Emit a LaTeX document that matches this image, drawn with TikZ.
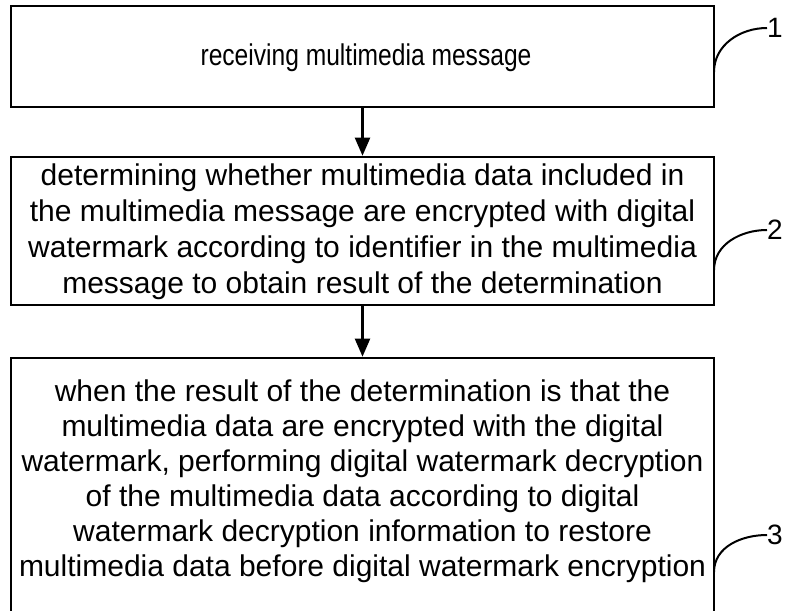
\documentclass[tikz,border=0pt]{standalone}
\usepackage{fontspec}
\usepackage{graphicx}
\setmainfont{Liberation Sans}
\usetikzlibrary{arrows.meta}
\begin{document}
\begin{tikzpicture}[x=1pt,y=1pt,
  stepbox/.style={draw=black,line width=2.6pt,minimum width=703pt,inner sep=0pt},
  boxtext/.style={inner sep=0pt,align=center},
  flow/.style={line width=2.2pt,-{Triangle[length=18pt,width=15pt]}},
  leader/.style={line width=2pt},
  numlabel/.style={font=\fontsize{28}{32}\selectfont,inner sep=0pt,anchor=west}]
\useasboundingbox (0,0) rectangle (791,610);
% boxes
\node[stepbox,minimum height=101pt] (b1) at (362.5,553.5) {};
\node[stepbox,minimum height=148pt] (b2) at (362.5,379) {};
\node[stepbox,minimum height=255pt] (b3) at (362.5,124.5) {};
% texts
\node[boxtext,font=\fontsize{30}{35}\selectfont] (t1) at (366,552) {\scalebox{0.82}[1]{receiving multimedia message}};
\node[boxtext,font=\fontsize{30}{36}\selectfont] (t2) at (362.5,378) {determining whether multimedia data included in\\the multimedia message are encrypted with digital\\watermark according to identifier in the multimedia\\message to obtain result of the determination};
\node[boxtext,font=\fontsize{30}{35}\selectfont] (t3) at (362.5,129) {when the result of the determination is that the\\multimedia data are encrypted with the digital\\watermark, performing digital watermark decryption\\of the multimedia data according to digital\\watermark decryption information to restore\\multimedia data before digital watermark encryption};
% connectors
\draw[flow] (b1) -- (b2);
\draw[flow] (b2) -- (b3);
% reference numerals
\node[numlabel] (n1) at (767,582) {1};
\node[numlabel] (n2) at (767,380) {2};
\node[numlabel] (n3) at (767,75) {3};
\coordinate (s1) at (714,538);
\coordinate (s2) at (714,340);
\coordinate (s3) at (714,38);
\draw[leader] (s1) to[out=90,in=180] (n1.west);
\draw[leader] (s2) to[out=90,in=180] (n2.west);
\draw[leader] (s3) to[out=90,in=180] (n3.west);
\end{tikzpicture}
\end{document}
